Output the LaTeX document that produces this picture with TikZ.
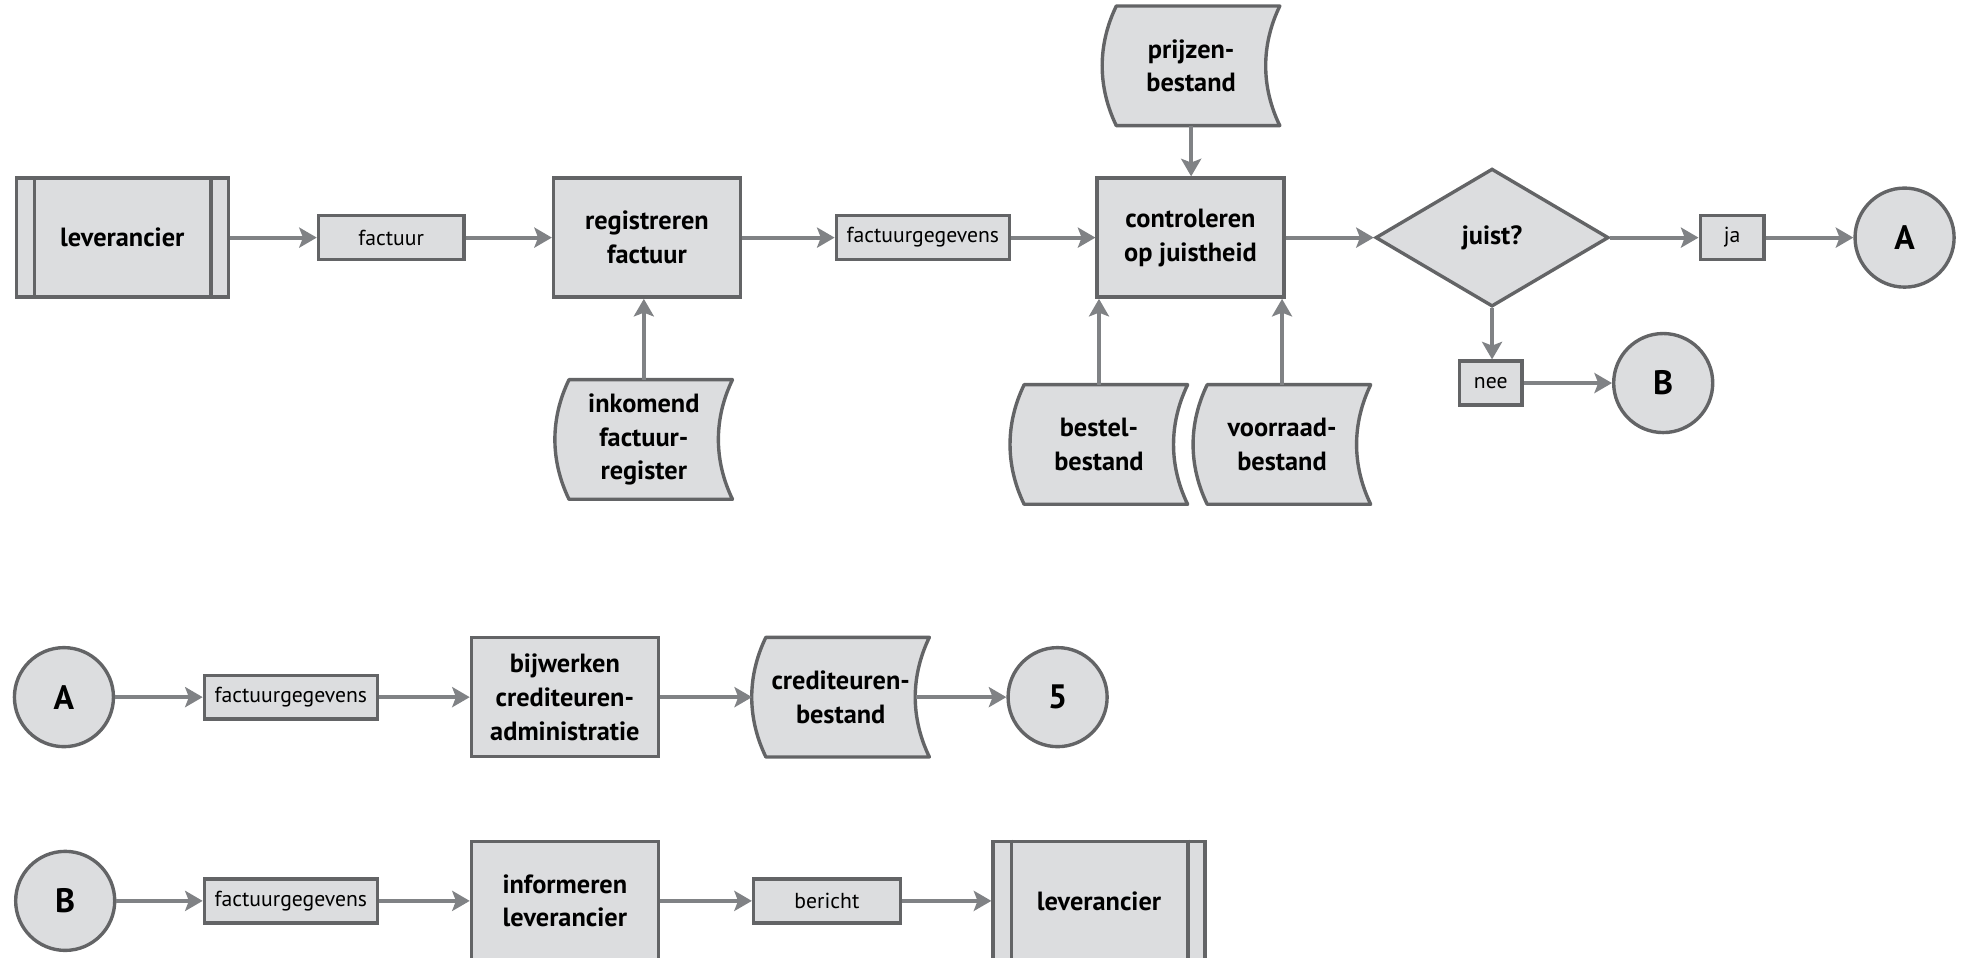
\documentclass[tikz,border=0pt]{standalone}
\usepackage{fontspec}
\setmainfont{PT Sans}
\usetikzlibrary{shapes.geometric,arrows.meta,backgrounds}
\definecolor{boxfill}{HTML}{DCDDDF}
\definecolor{boxline}{HTML}{636466}
\definecolor{arrowc}{HTML}{808285}
\begin{document}
\begin{tikzpicture}[x=1pt,y=-1pt,
  base/.style={draw=boxline,fill=boxfill,line width=2.7pt,inner sep=0pt,align=center,text=black},
  proc/.style={base,minimum width=149pt,minimum height=95pt,font=\bfseries\fontsize{21}{27}\selectfont},
  ext/.style={proc,minimum width=169pt},
  flow/.style={base,minimum height=35pt,font=\fontsize{17.3}{20}\selectfont},
  conn/.style={base,circle,minimum size=79pt,font=\bfseries\fontsize{27}{30}\selectfont},
  dec/.style={base,diamond,minimum width=186pt,minimum height=110pt,font=\bfseries\fontsize{21}{27}\selectfont},
  store/.style={inner sep=0pt,minimum width=141pt,minimum height=95pt,align=center,font=\bfseries\fontsize{21}{27}\selectfont},
  storeline/.style={draw=boxline,fill=boxfill,line width=2.7pt,line join=round},
  inner/.style={draw=boxline,line width=2.7pt},
  arr/.style={draw=arrowc,line width=3.2pt,-{Stealth[length=14pt,width=16pt,inset=3pt]}}
]
\useasboundingbox (0,0) rectangle (1568,764);

% row 1
\node[ext] (lev1) at (97.5,189.5) {leverancier};
\node[flow,minimum width=116pt] (fact) at (312,189.5) {factuur};
\node[proc] (reg) at (516,189.5) {registreren\\factuur};
\node[flow,minimum width=138pt] (fg1) at (736,189.5) {factuurgegevens};
\node[proc] (contr) at (949.5,189.5) {controleren\\op juistheid};
\node[dec] (dia) at (1190,189.5) {juist?};
\node[flow,minimum width=51pt] (ja) at (1381.5,189.5) {ja};
\node[conn] (A1) at (1519,189.5) {A};
\node[flow,minimum width=50pt] (nee) at (1189,305.5) {nee};
\node[conn] (B1) at (1326.5,305.5) {B};
\node[store] (prijs) at (950,52.5) {prijzen-\\bestand};
\node[store] (ink) at (513.5,350.5) {inkomend\\factuur-\\register};
\node[store] (best) at (876.5,354.5) {bestel-\\bestand};
\node[store] (voor) at (1022.5,354.5) {voorraad-\\bestand};

% row 2
\node[conn] (A2) at (51,556) {A};
\node[flow,minimum width=138pt] (fg2) at (232,556) {factuurgegevens};
\node[proc] (bij) at (450.5,556) {bijwerken\\crediteuren-\\administratie};
\node[store] (cred) at (670.5,556) {crediteuren-\\bestand};
\node[conn] (five) at (843.5,556) {5};

% row 3
\node[conn] (B2) at (52,718.5) {B};
\node[flow,minimum width=138pt] (fg3) at (232,718.5) {factuurgegevens};
\node[proc] (inf) at (450.5,718.5) {informeren\\leverancier};
\node[flow,minimum width=117pt] (ber) at (659.5,718.5) {bericht};
\node[ext] (lev2) at (876.5,718.5) {leverancier};

% inner lines of external entities
\foreach \n in {lev1,lev2}{
  \draw[inner] ([xshift=16pt]\n.north west) -- ([xshift=16pt]\n.south west);
  \draw[inner] ([xshift=-15pt]\n.north east) -- ([xshift=-15pt]\n.south east);
}

% storage shapes
\begin{scope}[on background layer]
\foreach \n in {prijs,ink,best,voor,cred}{
  \draw[storeline] ([xshift=11pt]\n.north west) .. controls +(-15,31) and +(-15,-31) .. ([xshift=11pt]\n.south west)
    -- (\n.south east) .. controls +(-15,-31) and +(-15,31) .. (\n.north east) -- cycle;
}
\end{scope}

% connectors row 1
\draw[arr] (lev1) -- (fact);
\draw[arr] (fact) -- (reg);
\draw[arr] (reg) -- (fg1);
\draw[arr] (fg1) -- (contr);
\draw[arr] (contr) -- (dia);
\draw[arr] (dia) -- (ja);
\draw[arr] (ja) -- (A1);
\draw[arr] (dia.south) -- (dia.south |- nee.north);
\draw[arr] (nee) -- (B1);
\draw[arr] (prijs.south) -- (prijs.south |- contr.north);
\draw[arr] (ink.north) -- (ink.north |- reg.south);
\draw[arr] (best.north) -- (best.north |- contr.south);
\draw[arr] (voor.north) -- (voor.north |- contr.south);

% connectors row 2
\draw[arr] (A2) -- (fg2);
\draw[arr] (fg2) -- (bij);
\draw[arr] (bij) -- (cred);
\draw[arr] ([xshift=-11pt]cred.east) -- (five);

% connectors row 3
\draw[arr] (B2) -- (fg3);
\draw[arr] (fg3) -- (inf);
\draw[arr] (inf) -- (ber);
\draw[arr] (ber) -- (lev2);
\end{tikzpicture}
\end{document}
